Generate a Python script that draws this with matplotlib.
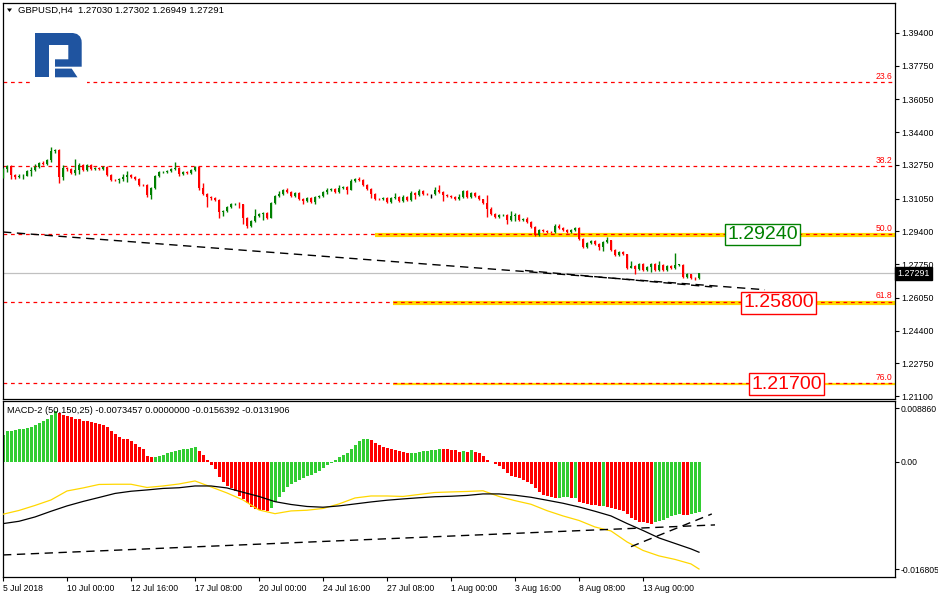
import numpy as np
import matplotlib
matplotlib.use("Agg")
import matplotlib.pyplot as plt
import matplotlib.transforms as mtransforms
from matplotlib.patches import Polygon, Rectangle

plt.rcParams["font.family"] = ["Liberation Sans", "DejaVu Sans"]

# ── Data (GBPUSD, H4) ────────────────────────────────────────────────────────
FIRST_OPEN = 1.3219
CLOSES = [
    1.3253, 1.3270, 1.3223, 1.3213, 1.3219, 1.3221, 1.3246, 1.3250, 1.3266, 1.3286,
    1.3280, 1.3300, 1.3344, 1.3350, 1.3216, 1.3260, 1.3253, 1.3233, 1.3250, 1.3276,
    1.3250, 1.3276, 1.3253, 1.3260, 1.3253, 1.3266, 1.3223, 1.3199, 1.3197, 1.3206,
    1.3216, 1.3223, 1.3216, 1.3203, 1.3175, 1.3172, 1.3125, 1.3159, 1.3219, 1.3239,
    1.3241, 1.3243, 1.3256, 1.3260, 1.3228, 1.3241, 1.3234, 1.3248, 1.3265, 1.3157,
    1.3130, 1.3113, 1.3110, 1.3100, 1.3036, 1.3043, 1.3063, 1.3077, 1.3080, 1.3077,
    1.3009, 1.2966, 1.2992, 1.3019, 1.3026, 1.3033, 1.3009, 1.3083, 1.3120, 1.3130,
    1.3150, 1.3140, 1.3120, 1.3134, 1.3103, 1.3093, 1.3107, 1.3087, 1.3113, 1.3120,
    1.3140, 1.3150, 1.3154, 1.3140, 1.3160, 1.3164, 1.3150, 1.3193, 1.3206, 1.3199,
    1.3172, 1.3155, 1.3129, 1.3105, 1.3102, 1.3108, 1.3088, 1.3108, 1.3115, 1.3095,
    1.3115, 1.3098, 1.3132, 1.3125, 1.3142, 1.3129, 1.3127, 1.3127, 1.3149, 1.3139,
    1.3125, 1.3119, 1.3112, 1.3102, 1.3115, 1.3145, 1.3115, 1.3132, 1.3119, 1.3102,
    1.3082, 1.3051, 1.3028, 1.3014, 1.3021, 1.3023, 1.2998, 1.3018, 1.3024, 1.2998,
    1.3004, 1.2986, 1.2962, 1.2922, 1.2946, 1.2942, 1.2939, 1.2937, 1.2969, 1.2956,
    1.2946, 1.2936, 1.2946, 1.2959, 1.2902, 1.2861, 1.2882, 1.2892, 1.2875, 1.2861,
    1.2888, 1.2895, 1.2848, 1.2821, 1.2838, 1.2825, 1.2757, 1.2764, 1.2751, 1.2774,
    1.2747, 1.2761, 1.2774, 1.2744, 1.2771, 1.2744, 1.2767, 1.2757, 1.2771, 1.2773,
    1.2710, 1.2724, 1.2707, 1.2703, 1.27291,
]
# wick lengths beyond the body, in pips
UP_WICK = [
    5, 5, 5, 7, 10, 10, 3, 15, 13, 5,
    10, 5, 23, 3, 3, 13, 3, 5, 53, 10,
    3, 5, 5, 5, 5, 5, 5, 5, 5, 5,
    13, 20, 5, 5, 5, 5, 5, 5, 5, 5,
    5, 5, 5, 30, 5, 5, 5, 5, 5, 3,
    27, 3, 5, 5, 3, 3, 5, 5, 5, 7,
    3, 3, 5, 33, 5, 5, 5, 5, 5, 13,
    5, 7, 5, 5, 5, 5, 5, 5, 5, 5,
    5, 10, 5, 5, 13, 5, 5, 10, 5, 7,
    5, 5, 3, 3, 5, 5, 5, 5, 17, 5,
    7, 5, 10, 5, 10, 5, 5, 3, 13, 23,
    5, 5, 5, 5, 13, 5, 5, 5, 5, 5,
    3, 43, 13, 3, 5, 5, 3, 23, 7, 5,
    5, 10, 5, 3, 5, 5, 5, 5, 7, 7,
    5, 5, 5, 5, 3, 3, 5, 7, 5, 5,
    5, 17, 3, 3, 5, 5, 3, 27, 5, 5,
    5, 5, 5, 5, 20, 5, 5, 5, 60, 5,
    3, 5, 3, 3, 1,
]
LOW_WICK = [
    10, 15, 20, 10, 3, 13, 3, 25, 5, 5,
    5, 5, 10, 10, 30, 17, 7, 5, 10, 20,
    7, 5, 5, 5, 5, 5, 5, 5, 5, 13,
    10, 27, 5, 5, 5, 5, 10, 23, 5, 5,
    5, 5, 5, 5, 10, 5, 5, 5, 5, 10,
    5, 48, 13, 5, 27, 20, 5, 5, 5, 17,
    30, 10, 5, 5, 5, 27, 5, 3, 5, 5,
    5, 5, 5, 5, 5, 13, 5, 5, 10, 5,
    5, 13, 5, 5, 5, 5, 20, 3, 5, 5,
    5, 5, 20, 5, 5, 5, 3, 7, 5, 5,
    7, 5, 5, 20, 5, 5, 5, 20, 5, 5,
    33, 5, 5, 5, 5, 5, 5, 5, 5, 5,
    5, 37, 5, 5, 5, 5, 23, 5, 27, 5,
    5, 5, 5, 3, 5, 5, 5, 5, 5, 5,
    5, 5, 5, 5, 5, 7, 5, 5, 5, 13,
    20, 5, 5, 5, 5, 5, 5, 3, 27, 5,
    5, 5, 27, 5, 5, 5, 5, 5, 5, 5,
    5, 5, 5, 7, 3,
]

# MACD-2 (50,150,25), values in 1e-4
MACD_HIST = [
    39.4, 45.2, 45.5, 46.2, 47.1, 48.1, 49.1, 51.0, 52.9, 55.8,
    58.8, 62.7, 67.5, 74.4, 70.4, 67.5, 66.6, 64.6, 62.7, 62.3,
    59.8, 58.8, 57.9, 56.9, 55.0, 52.9, 50.0, 45.2, 40.4, 35.4,
    33.5, 32.5, 29.6, 25.8, 20.8, 17.9, 8.7, 6.3, 6.9, 8.3,
    10.2, 12.1, 14.1, 16.0, 17.1, 17.9, 19.0, 20.0, 21.9, 16.0,
    9.2, 2.5, -5.4, -10.2, -21.9, -29.6, -35.4, -38.3, -43.3, -50.0,
    -55.0, -60.8, -65.6, -68.5, -70.4, -71.0, -71.4, -67.5, -58.8, -52.1,
    -44.2, -37.5, -32.5, -29.6, -26.7, -23.8, -20.8, -19.0, -16.0, -13.1,
    -9.2, -5.4, -1.5, 2.5, 7.3, 10.2, 13.1, 19.0, 24.8, 29.6,
    32.5, 33.1, 32.1, 26.7, 24.8, 21.9, 20.0, 17.9, 17.1, 15.0,
    14.1, 12.1, 13.1, 13.4, 14.1, 15.0, 16.0, 17.1, 17.4, 19.0,
    18.5, 18.2, 17.5, 16.5, 14.6, 15.6, 14.6, 16.5, 14.6, 12.7,
    7.7, 1.9, -1.0, -2.9, -6.9, -10.6, -16.5, -20.4, -22.3, -24.3,
    -27.3, -30.2, -33.1, -38.9, -44.8, -48.6, -50.6, -51.5, -52.5, -52.2,
    -51.9, -51.6, -53.5, -52.5, -58.3, -60.2, -62.3, -63.1, -63.4, -65.2,
    -64.9, -66.0, -67.1, -69.0, -70.0, -71.9, -76.8, -81.6, -84.6, -87.5,
    -88.5, -89.4, -90.4, -88.5, -86.5, -84.6, -82.7, -79.8, -77.7, -76.8,
    -77.3, -77.6, -75.8, -74.8, -73.5,
]
LINE_BARS = list(range(0, 173, 4)) + [174]
MACD_MAIN = [
    -76.5, -71.0, -63.7, -55.7, -42.6, -38.2, -33.1, -32.8, -32.8, -37.5,
    -35.3, -32.4, -28.0, -36.7, -45.5, -55.7, -70.3, -75.7, -71.7, -70.7,
    -68.1, -61.5, -52.8, -49.9, -49.9, -50.6, -47.7, -44.8, -44.0, -43.3,
    -42.3, -50.6, -56.7, -62.0, -71.3, -79.0, -85.6, -95.1, -100.9, -116.9,
    -129.3, -137.3, -142.4, -149.0, -156.4,
]
MACD_SIGNAL = [
    -90.2, -86.8, -80.5, -72.2, -64.4, -57.9, -52.1, -46.2, -43.0, -41.1,
    -38.9, -37.9, -35.3, -35.3, -38.2, -44.5, -50.6, -58.2, -62.3, -65.2,
    -66.3, -64.4, -61.5, -58.6, -56.1, -54.2, -52.5, -51.0, -50.3, -49.1,
    -46.9, -46.9, -48.8, -51.8, -56.1, -60.5, -65.9, -72.2, -79.0, -90.0,
    -100.2, -111.1, -119.1, -127.1, -131.9,
]

# Fibonacci retracement levels
FIB_LABELS = ["23.6", "38.2", "50.0", "61.8", "76.0"]
FIB_PRICES = [1.3693, 1.3270, 1.2928, 1.2586, 1.2175]

# analyst levels
LEVELS = [1.29240, 1.25800, 1.21700]
LEVEL_START = [93, 97.5, 97.5]
LEVEL_TEXT = ["1.29240", "1.25800", "1.21700"]
LEVEL_LABEL_BAR = [189.9, 193.9, 195.9]
LEVEL_COLOR = ["#008000", "#FF0000", "#FF0000"]

# trend lines (bar, value)
TREND_PRICE = [([0, 190.5], [1.2937, 1.2646]), ([130.5, 177.3], [1.2743, 1.2660])]
TREND_MACD = [([0, 178], [-0.01359, -0.00921]), ([157, 177.2], [-0.01238, -0.00761])]

LAST_PRICE = 1.27291
PRICE_TICKS = [1.39400, 1.37750, 1.36050, 1.34400, 1.32750, 1.31050,
               1.29400, 1.27750, 1.26050, 1.24400, 1.22750, 1.21100]
DATE_BARS = [0, 16, 32, 48, 64, 80, 96, 112, 128, 144, 160]
DATE_LABELS = ["5 Jul 2018", "10 Jul 00:00", "12 Jul 16:00", "17 Jul 08:00",
               "20 Jul 00:00", "24 Jul 16:00", "27 Jul 08:00", "1 Aug 00:00",
               "3 Aug 16:00", "8 Aug 08:00", "13 Aug 00:00"]
MACD_MAX, MACD_MIN = 0.008860, -0.016805

GREEN, RED = "#008000", "#FF0000"
HGREEN = "#32CD32"
GOLD = "#FFD700"

W, H = 938, 597
fig = plt.figure(figsize=(W / 100, H / 100), dpi=100, facecolor="white")


def fx(px):
    return px / W


def fy(py):
    return 1 - py / H


ax = fig.add_axes([fx(3), fy(399), fx(895) - fx(3), fy(3) - fy(399)])
mx = fig.add_axes([fx(3), fy(577), fx(895) - fx(3), fy(401) - fy(577)], sharex=ax)

idx = np.arange(len(CLOSES))
closes = np.array(CLOSES)
opens = np.r_[FIRST_OPEN, closes[:-1]]
highs = np.maximum(opens, closes) + np.array(UP_WICK) * 1e-4
lows = np.minimum(opens, closes) - np.array(LOW_WICK) * 1e-4
ccol = np.where(closes > opens, GREEN, np.where(closes < opens, RED, "black"))

# ── Main price panel ─────────────────────────────────────────────────────────
for lvl, start, lw in zip(LEVELS, LEVEL_START, [3, 3, 1.6]):
    ax.plot([start, 223], [lvl, lvl], color=GOLD, lw=lw, solid_capstyle="butt", zorder=1)
for lab, price in zip(FIB_LABELS, FIB_PRICES):
    ax.plot([0, 222.5], [price, price], color=RED, lw=0.9, ls=(0, (3, 3)), zorder=2)
    ax.text(222.4, price + 0.0006, lab, color=RED, fontsize=6.2, ha="right", va="bottom", zorder=3)

ax.axhline(LAST_PRICE, color="#C0C0C0", lw=0.9, zorder=1)
for xs, ys in TREND_PRICE:
    ax.plot(xs, ys, color="black", lw=1, ls=(0, (6, 4)), zorder=2)

ax.vlines(idx, lows, highs, colors=ccol, lw=1, zorder=4)
body = np.maximum(np.abs(closes - opens), 0.00025)
ax.bar(idx, body, bottom=np.minimum(opens, closes), width=0.72, color=ccol, lw=0, zorder=5)

for lvl, xb, txt, col in zip(LEVELS, LEVEL_LABEL_BAR, LEVEL_TEXT, LEVEL_COLOR):
    ax.text(xb, lvl, txt, color=col, fontsize=14, ha="center", va="center", zorder=6,
            bbox=dict(boxstyle="square,pad=0.12", fc="white", ec=col, lw=1))

ax.set_xlim(0, 223)
ax.set_ylim(1.20953, 1.40912)
ax.yaxis.tick_right()
ax.set_yticks(PRICE_TICKS)
ax.set_yticklabels([f"{t:.5f}" for t in PRICE_TICKS])
ax.tick_params(axis="y", direction="out", length=3, width=0.8, labelsize=6.4, pad=1.5)
ax.tick_params(axis="x", bottom=False, labelbottom=False)

trans = mtransforms.blended_transform_factory(ax.transAxes, ax.transData)
ax.text(1.003, LAST_PRICE, f"{LAST_PRICE:.5f}", transform=trans, color="white",
        fontsize=6.4, ha="left", va="center",
        bbox=dict(boxstyle="square,pad=0.25", fc="black", ec="black"))

# ── MACD panel ───────────────────────────────────────────────────────────────
hist = np.array(MACD_HIST) * 1e-4
hcol = [HGREEN if i == 0 or hist[i] > hist[i - 1] else RED for i in range(len(hist))]
mx.bar(idx, hist, width=0.75, color=hcol, lw=0, zorder=2)
mx.plot(LINE_BARS, np.array(MACD_MAIN) * 1e-4, color=GOLD, lw=0.9, zorder=3)
mx.plot(LINE_BARS, np.array(MACD_SIGNAL) * 1e-4, color="black", lw=0.9, zorder=3)
for xs, ys in TREND_MACD:
    mx.plot(xs, ys, color="black", lw=1, ls=(0, (6, 4)), zorder=3)

mx.set_ylim(MACD_MIN, MACD_MAX)
span = MACD_MAX - MACD_MIN
mx.yaxis.tick_right()
mx.set_yticks([MACD_MAX - 0.04 * span, 0, MACD_MIN + 0.045 * span])
mx.set_yticklabels([f"{MACD_MAX:.6f}", "0.00", f"{MACD_MIN:.6f}"])
mx.tick_params(axis="y", direction="out", length=3, width=0.8, labelsize=6.2, pad=1)
mx.set_xticks(DATE_BARS)
mx.set_xticklabels(DATE_LABELS)
for t in mx.get_xticklabels():
    t.set_horizontalalignment("left")
mx.tick_params(axis="x", direction="out", length=3, width=0.8, labelsize=6.2, pad=2)

for a in (ax, mx):
    for s in a.spines.values():
        s.set_linewidth(0.9)
        s.set_color("black")

# ── Header texts and logo ────────────────────────────────────────────────────
fig.text(fx(18), fy(10.5), "GBPUSD,H4  1.27030 1.27302 1.26949 1.27291",
         fontsize=6.8, va="center", ha="left")
fig.add_artist(Polygon([(fx(7), fy(8.5)), (fx(12), fy(8.5)), (fx(9.5), fy(12))],
                       closed=True, fc="black", ec="none", transform=fig.transFigure))
fig.text(fx(7), fy(410.5), "MACD-2 (50,150,25) -0.0073457 0.0000000 -0.0156392 -0.0131906",
         fontsize=6.7, va="center", ha="left")

# logo sits on a white plate that hides the 23.6 line under it
fig.add_artist(Rectangle((fx(30), fy(85)), fx(87) - fx(30), fy(28) - fy(85),
                         fc="white", ec="none", transform=fig.transFigure, zorder=9))
LOGO = "#1F54A0"
logo_parts = [
    [(35, 33), (48.5, 33), (48.5, 77.3), (35, 77.3)],
    [(48.5, 33), (73, 33), (77, 34), (80, 36.5), (81.5, 40), (81.7, 43), (81.7, 66.7),
     (55, 66.7), (55, 59.3), (68.3, 59.3), (68.3, 45), (48.5, 45)],
    [(55, 68.6), (71.7, 68.6), (77.5, 77.3), (55, 77.3)],
]
for part in logo_parts:
    fig.add_artist(Polygon([(fx(px), fy(py)) for px, py in part], closed=True,
                           fc=LOGO, ec="none", transform=fig.transFigure, zorder=10))

fig.savefig("out.png", dpi=100, facecolor="white")
